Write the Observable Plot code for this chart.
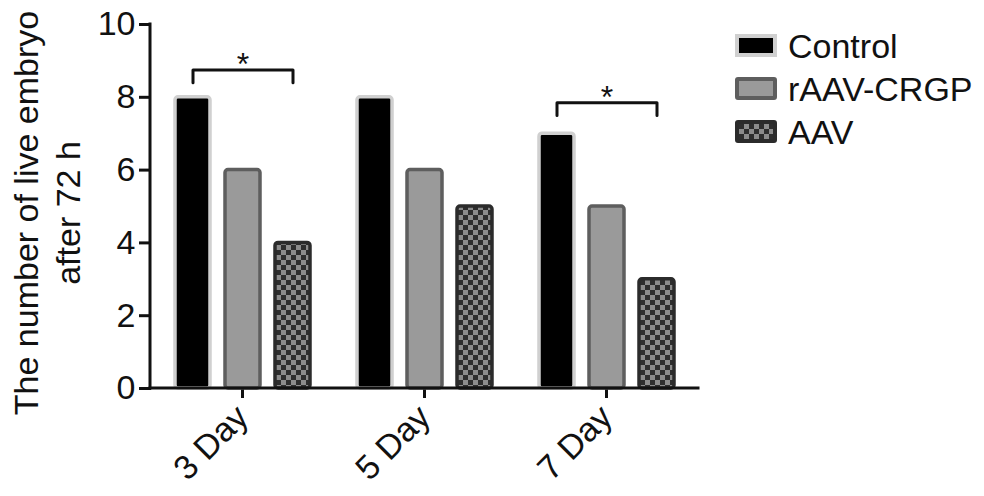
<!DOCTYPE html>
<html><head><meta charset="utf-8">
<script src="https://cdn.jsdelivr.net/npm/d3@7"></script>
<script src="https://cdn.jsdelivr.net/npm/@observablehq/plot@0.6"></script>
<style>
body{margin:0;background:#fff;}
#wrap{position:relative;width:984px;height:496px;font-family:"Liberation Sans",Arial,sans-serif;}
#legend{position:absolute;left:735px;top:24px;}
.row{display:flex;align-items:center;height:43px;}
.sw{width:42px;height:23px;box-sizing:border-box;margin-right:11px;flex:none;}
.lbl{font-size:34px;color:#111;line-height:1;}
svg g[aria-label^="y-axis"] path, svg g[aria-label^="y-axis"] line,
svg g[aria-label^="fx-axis"] path, svg g[aria-label^="fx-axis"] line {stroke-width:3px;stroke:#111;}
</style></head><body><div id="wrap"></div>
<script>
const days = ["3 Day", "5 Day", "7 Day"];
const series = ["Control", "rAAV-CRGP", "AAV"];
const control = [8, 8, 7];
const raav = [6, 6, 5];
const aav = [4, 5, 3];
const sigDay = ["3 Day", "7 Day"];
const sigFrom = ["Control", "Control"];
const sigTo = ["AAV", "AAV"];
const sigY = [8.75, 7.85];
const sigText = ["*", "*"];
const yTicks = [0, 2, 4, 6, 8, 10];
const yLabel = ["The number of live embryo", "after 72 h"];

const values = [control, raav, aav];
const rows = days.flatMap((day, i) => series.map((s, j) => ({day, series: s, value: values[j][i]})));

const fills = {"Control": "#000000", "rAAV-CRGP": "#9a9a9a", "AAV": "url(#checker)"};
const strokes = {"Control": "#d0d0d0", "rAAV-CRGP": "#5e5e5e", "AAV": "#2b2b2b"};
const drop = 0.35;
const brackets = sigDay.flatMap((day, i) => [
  {day, k: i, x: sigFrom[i], y: sigY[i] - drop},
  {day, k: i, x: sigFrom[i], y: sigY[i]},
  {day, k: i, x: sigTo[i], y: sigY[i]},
  {day, k: i, x: sigTo[i], y: sigY[i] - drop}
]);
const stars = sigDay.map((day, i) => ({
  day, x: series[(series.indexOf(sigFrom[i]) + series.indexOf(sigTo[i])) / 2], y: sigY[i], t: sigText[i]
}));

const chart = Plot.plot({
  width: 984, height: 496,
  marginTop: 24, marginBottom: 108, marginLeft: 150, marginRight: 286,
  style: {fontFamily: "'Liberation Sans', Arial, sans-serif", fontSize: "34px", color: "#111", background: "transparent", overflow: "visible"},
  fx: {domain: days, paddingInner: 0, paddingOuter: 0, label: null, tickRotate: -45, tickSize: 10, tickPadding: 13},
  x: {domain: series, axis: null, paddingInner: 0.307, paddingOuter: 0.4625},
  y: {domain: [0, 10], ticks: yTicks, tickSize: 12, tickPadding: 4, label: null},
  color: {type: "identity"},
  marks: [
    Plot.barY(rows, {fx: "day", x: "series", y: "value", fill: d => fills[d.series], stroke: d => strokes[d.series], strokeWidth: 3.5, rx: 3}),
    Plot.line(brackets, {fx: "day", x: "x", y: "y", z: "k", stroke: "#111", strokeWidth: 3}),
    Plot.text(stars, {fx: "day", x: "x", y: "y", text: "t", dy: -5, fontSize: 32, fill: "#111"})
  ]
});

const svg = chart.tagName.toLowerCase() === "svg" ? chart : chart.querySelector("svg");
const defs = d3.select(svg).insert("defs", ":first-child");
const pat = defs.append("pattern").attr("id", "checker").attr("patternUnits", "userSpaceOnUse").attr("width", 10).attr("height", 10);
pat.append("rect").attr("width", 10).attr("height", 10).attr("fill", "#2e2e2e");
pat.append("rect").attr("width", 5).attr("height", 5).attr("fill", "#8c8c8c");
pat.append("rect").attr("x", 5).attr("y", 5).attr("width", 5).attr("height", 5).attr("fill", "#8c8c8c");

const ys = chart.scale("y");
const fxs = chart.scale("fx");
const [r0, r1] = fxs.range;
const g = d3.select(svg).append("g").attr("stroke", "#111").attr("stroke-width", 3).attr("stroke-linecap", "square");
g.append("line").attr("x1", r0).attr("x2", r0).attr("y1", ys.apply(0)).attr("y2", ys.apply(10));
g.append("line").attr("x1", r0).attr("x2", r1).attr("y1", ys.apply(0)).attr("y2", ys.apply(0));

const lab = d3.select(svg).append("g").attr("fill", "#111").attr("font-size", 34).attr("text-anchor", "middle");
lab.append("text").attr("transform", "translate(38,213) rotate(-90)").text(yLabel[0]);
lab.append("text").attr("transform", "translate(80,213) rotate(-90)").text(yLabel[1]);

const wrap = document.getElementById("wrap");
wrap.appendChild(chart);

const legend = document.createElement("div");
legend.id = "legend";
const swStyles = {
  "Control": "background:#000;border:4px solid #d0d0d0;",
  "rAAV-CRGP": "background:#9a9a9a;border:4px solid #5e5e5e;border-radius:3px;",
  "AAV": "background:conic-gradient(#8c8c8c 25%, #2e2e2e 0 50%, #8c8c8c 0 75%, #2e2e2e 0) 0 0/10px 10px;border:4px solid #2b2b2b;border-radius:3px;"
};
series.forEach(s => {
  const row = document.createElement("div");
  row.className = "row";
  row.innerHTML = `<div class="sw" style="${swStyles[s]}"></div><div class="lbl">${s}</div>`;
  legend.appendChild(row);
});
wrap.appendChild(legend);
</script></body></html>
